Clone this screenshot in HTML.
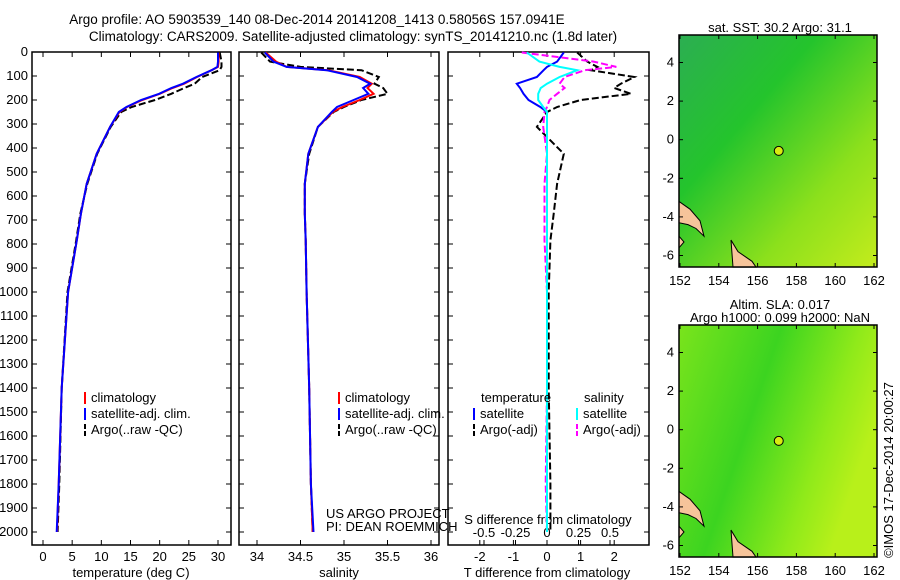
<!DOCTYPE html>
<html><head><meta charset="utf-8">
<style>
html,body{margin:0;padding:0;background:#fff;}
svg{display:block;font-family:"Liberation Sans",sans-serif;}
text{font-size:13px;fill:#000;}
</style></head>
<body>
<svg id="chart" width="900" height="580" viewBox="0 0 900 580">
<defs>
<linearGradient id="sstg" x1="0" y1="0" x2="1" y2="1">
<stop offset="0" stop-color="#2cae52"/><stop offset="0.35" stop-color="#24c42c"/><stop offset="0.7" stop-color="#8ce01c"/><stop offset="1" stop-color="#c4ec1c"/>
</linearGradient>
<linearGradient id="slag" x1="0" y1="0" x2="1" y2="0.4">
<stop offset="0" stop-color="#7ae41c"/><stop offset="0.45" stop-color="#3cd420"/><stop offset="0.8" stop-color="#90ea1a"/><stop offset="1" stop-color="#b8f01a"/>
</linearGradient>
</defs>
<text x="317" y="24" text-anchor="middle" style="font-size:13.5px">Argo profile: AO 5903539_140 08-Dec-2014 20141208_1413 0.58056S 157.0941E</text>
<text x="353" y="41" text-anchor="middle" style="font-size:13.5px">Climatology: CARS2009. Satellite-adjusted climatology: synTS_20141210.nc (1.8d later)</text>
<g id="plots"></g>
</svg>
<script>
// depth levels (m)
const depths = [2,40,62,76,104,132,150,174,200,229,250,312,424,549,674,785,1000,1400,1800,2000];
const tempClim = [30.1,30.1,30.0,28.9,26.4,24.2,22.2,20.0,17.0,14.4,13.1,11.5,9.2,7.5,6.5,5.8,4.3,3.2,2.7,2.4];
const tempSat  = [30.0,30.0,29.9,28.9,26.3,24.0,22.0,19.9,16.8,14.3,13.0,11.5,9.2,7.5,6.5,5.8,4.3,3.2,2.7,2.35];
const tempArgo = [30.3,30.6,30.6,30.3,27.3,26.0,24.2,22.0,19.2,15.2,13.4,11.6,9.3,7.6,6.4,5.7,4.2,3.2,2.8,2.5];
const salClim  = [34.10,34.22,34.34,34.82,35.18,35.32,35.27,35.34,35.18,34.98,34.87,34.70,34.59,34.55,34.55,34.56,34.57,34.60,34.62,34.64];
const salSat   = [34.09,34.19,34.34,34.80,35.15,35.30,35.22,35.28,35.11,34.92,34.86,34.70,34.59,34.55,34.55,34.56,34.57,34.60,34.62,34.65];
const salArgo  = [34.05,34.15,34.50,35.20,35.40,35.35,35.45,35.50,35.20,35.00,34.88,34.70,34.60,34.55,34.55,34.56,34.57,34.60,34.62,34.64];
const dTsat  = [0.5,0.3,0.0,-0.1,-0.3,-0.9,-0.8,-0.7,-0.55,-0.2,0.0,0.0,0.0,0.0,0.0,0.0,0.0,0.0,0.0,0.0];
const dSsat  = [-0.16,-0.06,0.10,0.24,0.10,0.0,-0.05,-0.07,-0.07,-0.03,0.0,0.0,0.0,0.0,0.0,0.0,0.0,0.0,0.0,0.0];
const dTargo = [0.9,1.2,1.5,1.3,2.6,2.2,2.0,2.5,1.0,0.3,0.0,-0.3,0.5,0.3,0.2,0.1,0.05,0.05,0.1,0.1];
const dSargo = [-0.2,0.37,0.55,0.3,0.14,0.10,0.14,0.08,0.02,0.0,-0.02,-0.03,0.0,-0.02,-0.02,-0.02,0.0,0.0,-0.01,0.0];
const depthTicks = [0,100,200,300,400,500,600,700,800,900,1000,1100,1200,1300,1400,1500,1600,1700,1800,1900,2000];
const tempTicks = [0,5,10,15,20,25,30];
const salTicks = [34,34.5,35,35.5,36];
const tdTicks = [-2,-1,0,1,2];
const sdTicks = [-0.5,-0.25,0,0.25,0.5];
const lonTicks = [152,154,156,158,160,162];
const latTicks = [4,2,0,-2,-4,-6];

const NS='http://www.w3.org/2000/svg';
const root=document.getElementById('plots');
function mk(tag,attrs,parent){const e=document.createElementNS(NS,tag);for(const k in attrs)e.setAttribute(k,attrs[k]);(parent||root).appendChild(e);return e;}
const yD = d => 52 + d*0.24;
const xT = t => 43 + t*5.833;
const xS = s => 257 + (s-34)*87;
const xTd = t => 547 + t*33.6;
const xSd = s => 547 + s*126;

function panel(x0,x1,name){
  const r=mk('rect',{x:x0,y:52,width:x1-x0,height:493,fill:'none',stroke:'#000','stroke-width':1.5});
  
  
  depthTicks.forEach(d=>{
    mk('line',{x1:x0,x2:x0+5,y1:yD(d),y2:yD(d),stroke:'#000'});
    mk('line',{x1:x1-5,x2:x1,y1:yD(d),y2:yD(d),stroke:'#000'});
  });
}
panel(32,231,'temperature-panel');
panel(239,439,'salinity-panel');
panel(448,649,'difference-panel');
depthTicks.forEach(d=>{
  const t=mk('text',{x:28,y:yD(d)+4,'text-anchor':'end'});t.textContent=d;
  
  
});
function xticks(arr,fx,y,fmt,top){
  arr.forEach(v=>{const x=fx(v);
    mk('line',{x1:x,x2:x,y1:545,y2:540,stroke:'#000'});
    if(top) mk('line',{x1:x,x2:x,y1:52,y2:57,stroke:'#000'});
    const t=mk('text',{x:x,y:y,'text-anchor':'middle'});t.textContent=fmt?fmt(v):v;
    
    
  });
}
xticks(tempTicks,xT,561,null,true);
xticks(salTicks,xS,561,null,true);
xticks(tdTicks,xTd,561,null,true);
sdTicks.forEach(v=>{const x=xSd(v);mk('line',{x1:x,x2:x,y1:545,y2:540,stroke:'#000'});
  const t=mk('text',{x:x,y:537,'text-anchor':'middle'});t.textContent=String(v);
  
  });
function lab(x,y,s,name,anchor){const t=mk('text',{x:x,y:y,'text-anchor':anchor||'middle'});t.textContent=s;
  
  return t;}
lab(131,577,'temperature (deg C)','temperature-axis-title');
lab(339,577,'salinity','salinity-axis-title');
lab(547,577,'T difference from climatology','t-diff-axis-title');
lab(548,524,'S difference from climatology','s-diff-axis-title');
lab(326,518,'US ARGO PROJECT','project-label','start');
lab(326,531,'PI: DEAN ROEMMICH','pi-label','start');

function line(xs,fx,color,w,dash,name){
  const p=depths.map((d,i)=>(i?'L':'M')+fx(xs[i]).toFixed(1)+','+yD(d).toFixed(1)).join(' ');
  const e=mk('path',{d:p,fill:'none',stroke:color,'stroke-width':w});
  if(dash)e.setAttribute('stroke-dasharray',dash);
  
  
}
line(tempArgo,xT,'#000',2,'7,3','temp-argo-line');
line(tempClim,xT,'#f00',2,null,'temp-clim-line');
line(tempSat,xT,'#00f',2,null,'temp-sat-line');
line(salArgo,xS,'#000',2,'7,3','sal-argo-line');
line(salClim,xS,'#f00',2,null,'sal-clim-line');
line(salSat,xS,'#00f',2,null,'sal-sat-line');
line(dTargo,xTd,'#000',2,'7,3','tdiff-argo-line');
line(dSargo,xSd,'#f0f',2,'7,3','sdiff-argo-line');
line(dTsat,xTd,'#00f',2,null,'tdiff-sat-line');
line(dSsat,xSd,'#0ff',2,null,'sdiff-sat-line');

function legend(x,y,items,name){
  const g=mk('g',{});
  
  
  items.forEach((it,i)=>{
    mk('line',{x1:x,x2:x,y1:y+i*16-10,y2:y+i*16+2,stroke:it[1],'stroke-width':2,'stroke-dasharray':it[2]?'5,2':'none'},g);
    const t=mk('text',{x:x+6,y:y+i*16},g);t.textContent=it[0];
  });
}
const leg=[['climatology','#f00'],['satellite-adj. clim.','#00f'],['Argo(..raw -QC)','#000',1]];
legend(85,402,leg,'temp-legend');
legend(339,402,leg,'sal-legend');
lab(481,402,'temperature','tdiff-legend-title','start');
lab(584,402,'salinity','sdiff-legend-title','start');
legend(474,418,[['satellite','#00f'],['Argo(-adj)','#000',1]],'tdiff-legend');
legend(577,418,[['satellite','#0ff'],['Argo(-adj)','#f0f',1]],'sdiff-legend');

// maps
const lonX = l => 680 + (l-152)*19.4;
function map(top,fill,name,title1,title2){
  const latY = la => top + 27.5 + (4-la)*19.3;
  const r=mk('rect',{x:679,y:top,width:198,height:232,fill:fill});
  
  
  const c=mk('path',{d:`M679,${latY(-3.2)} L690,${latY(-3.6)} L700,${latY(-4.2)} L704,${latY(-5)} L696,${latY(-4.6)} L688,${latY(-4.4)} L679,${latY(-4.3)} Z M731,${latY(-5.2)} L738,${latY(-5.8)} L752,${latY(-6.3)} L756,${latY(-6.6)} L733,${latY(-6.6)} Z M679,${latY(-5.0)} L684,${latY(-5.3)} L679,${latY(-5.6)} Z`,fill:'#f6c49a',stroke:'#000','stroke-width':1});
  
  
  mk('rect',{x:679,y:top,width:198,height:232,fill:'none',stroke:'#000','stroke-width':1.5});
  const p=mk('circle',{cx:lonX(157.09),cy:latY(-0.58),r:4.5,fill:'#d8ec10',stroke:'#000','stroke-width':1});
  
  
  lonTicks.forEach(l=>{mk('line',{x1:lonX(l),x2:lonX(l),y1:top,y2:top+4,stroke:'#000'});
    mk('line',{x1:lonX(l),x2:lonX(l),y1:top+232,y2:top+228,stroke:'#000'});
    const t=mk('text',{x:lonX(l),y:top+250,'text-anchor':'middle'});t.textContent=l;
    
    });
  latTicks.forEach(la=>{mk('line',{x1:679,x2:683,y1:latY(la),y2:latY(la),stroke:'#000'});
    mk('line',{x1:873,x2:877,y1:latY(la),y2:latY(la),stroke:'#000'});
    const t=mk('text',{x:674,y:latY(la)+4,'text-anchor':'end'});t.textContent=la;
    
    });
  if(title1)lab(780,top-16,title1,'map-title','middle');
  if(title2)lab(780,top-3,title2,'map-title','middle');
}
map(35,'url(#sstg)','sst-map',null,'sat. SST: 30.2 Argo: 31.1');
map(325,'url(#slag)','sla-map','Altim. SLA: 0.017','Argo h1000: 0.099 h2000: NaN');
const ts=mk('text',{x:893,y:470,'text-anchor':'middle',transform:'rotate(-90 893 470)'});ts.textContent='©IMOS 17-Dec-2014 20:00:27';


</script>
</body></html>
